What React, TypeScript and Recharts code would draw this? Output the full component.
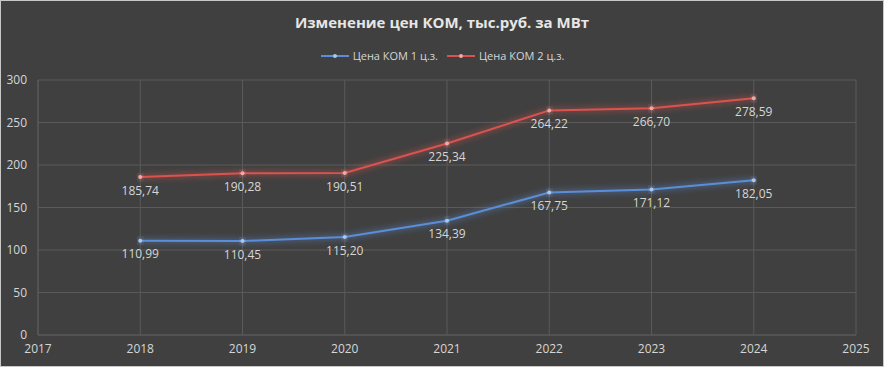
import React from "react";
import { CartesianGrid, LabelList, Line, LineChart, XAxis, YAxis } from "recharts";

const years = [2018, 2019, 2020, 2021, 2022, 2023, 2024];
const zone1 = [110.99, 110.45, 115.2, 134.39, 167.75, 171.12, 182.05];
const zone2 = [185.74, 190.28, 190.51, 225.34, 264.22, 266.7, 278.59];
const xTicks = [2017, 2018, 2019, 2020, 2021, 2022, 2023, 2024, 2025];
const yTicks = [0, 50, 100, 150, 200, 250, 300];

const data = years.map((year, i) => ({ year, zone1: zone1[i], zone2: zone2[i] }));

const FONT = "'Open Sans', 'Noto Sans', sans-serif";
const TEXT = "#d6d6d6";
const BLUE = "#5b8ed8";
const RED = "#d9534f";

const fmt = (v: any) => Number(v).toFixed(2).replace(".", ",");

function ChartLegend() {
  const items = [
    { name: "Цена КОМ 1 ц.з.", color: BLUE, dot: "#a9c6f0" },
    { name: "Цена КОМ 2 ц.з.", color: RED, dot: "#f0a9a9" },
  ];
  return (
    <div
      style={{
        position: "absolute",
        top: 47,
        left: 0,
        width: 882,
        display: "flex",
        justifyContent: "center",
        gap: 8,
        fontFamily: FONT,
        fontSize: 11,
        color: TEXT,
      }}
    >
      {items.map((it) => (
        <div key={it.name} style={{ display: "flex", alignItems: "center" }}>
          <svg width={30} height={10} style={{ marginRight: 3 }}>
            <line x1={1} y1={5} x2={29} y2={5} stroke={it.color} strokeWidth={2} />
            <circle cx={15} cy={5} r={2} fill={it.dot} />
          </svg>
          <span>{it.name}</span>
        </div>
      ))}
    </div>
  );
}

export default function App() {
  return (
    <div
      style={{
        position: "absolute",
        top: 0,
        left: 0,
        width: 884,
        height: 367,
        boxSizing: "border-box",
        border: "1px solid #c8c8c8",
        background: "#404040",
      }}
    >
      <div
        style={{
          position: "absolute",
          top: 11,
          left: 0,
          width: 882,
          textAlign: "center",
          fontFamily: FONT,
          fontWeight: 700,
          fontSize: 15,
          color: "#e6e6e6",
        }}
      >
        Изменение цен КОМ, тыс.руб. за МВт
      </div>
      <ChartLegend />
      <LineChart width={882} height={365} data={data} margin={{ top: 79, right: 27, bottom: 6, left: 0 }}>
        <defs>
          <filter id="glow" x="-20%" y="-50%" width="140%" height="200%">
            <feGaussianBlur stdDeviation="3" result="blur" />
            <feMerge>
              <feMergeNode in="blur" />
              <feMergeNode in="SourceGraphic" />
            </feMerge>
          </filter>
        </defs>
        <CartesianGrid stroke="#5a5a5a" vertical horizontal />
        <XAxis
          dataKey="year"
          type="number"
          domain={[2017, 2025]}
          ticks={xTicks}
          axisLine={{ stroke: "#5a5a5a" }}
          tickLine={false}
          tickSize={0}
          tickMargin={9}
          height={25}
          tick={{ fill: TEXT, fontSize: 12, fontFamily: FONT }}
        />
        <YAxis
          domain={[0, 300]}
          ticks={yTicks}
          axisLine={{ stroke: "#5a5a5a" }}
          tickLine={false}
          tickSize={0}
          tickMargin={11}
          width={37}
          tick={{ fill: TEXT, fontSize: 12, fontFamily: FONT }}
        />
        <Line
          dataKey="zone1"
          stroke={BLUE}
          strokeWidth={2}
          filter="url(#glow)"
          dot={{ r: 2, fill: "#a9c6f0", stroke: "none" }}
          isAnimationActive={false}
        >
          <LabelList dataKey="zone1" position="bottom" offset={9} formatter={fmt} fill={TEXT} fontSize={12} fontFamily={FONT} />
        </Line>
        <Line
          dataKey="zone2"
          stroke={RED}
          strokeWidth={2}
          filter="url(#glow)"
          dot={{ r: 2, fill: "#f0a9a9", stroke: "none" }}
          isAnimationActive={false}
        >
          <LabelList dataKey="zone2" position="bottom" offset={9} formatter={fmt} fill={TEXT} fontSize={12} fontFamily={FONT} />
        </Line>
      </LineChart>
    </div>
  );
}
